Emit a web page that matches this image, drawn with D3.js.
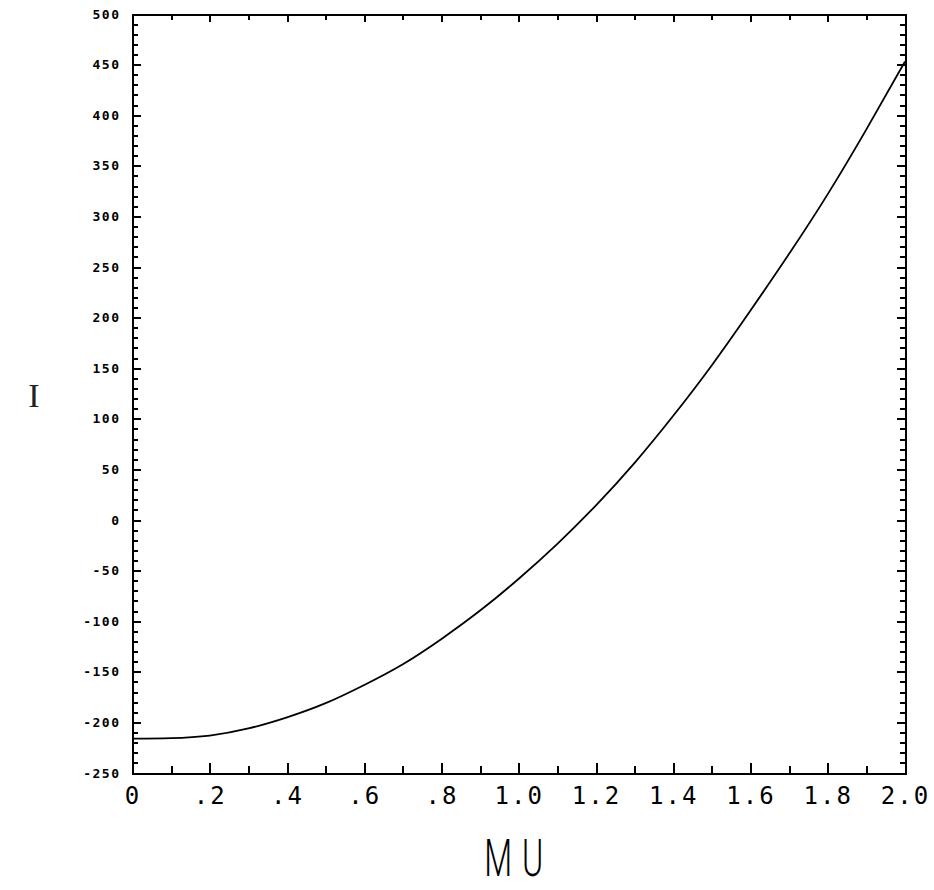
<!DOCTYPE html>
<meta charset="utf-8">
<script src="https://cdn.jsdelivr.net/npm/d3@7"></script>
<style type="text/css">
    body { margin: 0; background: #fff; }

    .axis path,
    .axis line {
        fill: none;
        stroke: #000;
        stroke-width: 2px;
        shape-rendering: crispEdges;
    }

    .y-label text {
        font-family: "DejaVu Sans Mono", monospace;
        font-weight: bold;
        font-size: 13px;
        letter-spacing: 1.5px;
    }

    .x-label text {
        font-family: "DejaVu Sans Mono", monospace;
        font-size: 24px;
        letter-spacing: 2px;
    }
</style>
<body>
<script>
    // curve I vs MU
    var mu = [0, 0.1, 0.2, 0.3, 0.4, 0.5, 0.6, 0.7, 0.8, 0.9, 1.0,
              1.1, 1.2, 1.3, 1.4, 1.5, 1.6, 1.7, 1.8, 1.9, 2.0];
    var iVal = [-216, -215.5, -213, -206, -195, -181, -163, -142.5, -117.5, -89.5, -58,
                -23.5, 14.5, 56.5, 103, 153, 207, 263, 322, 386, 453];

    var xTicks = [0, 0.2, 0.4, 0.6, 0.8, 1.0, 1.2, 1.4, 1.6, 1.8, 2.0];
    var xTickLabels = ["0", ".2", ".4", ".6", ".8", "1.0", "1.2", "1.4", "1.6", "1.8", "2.0"];
    var yTicks = [-250, -200, -150, -100, -50, 0, 50, 100, 150, 200, 250, 300, 350, 400, 450, 500];
    var yTickLabels = ["-250", "-200", "-150", "-100", "-50", "0", "50", "100", "150",
                       "200", "250", "300", "350", "400", "450", "500"];

    var margin = {top: 14, right: 29, bottom: 117, left: 132.5},
        width = 934 - margin.left - margin.right,
        height = 890 - margin.top - margin.bottom;

    var x = d3.scaleLinear().domain([0, 2]).range([0, width]),
        y = d3.scaleLinear().domain([-250, 500]).range([height, 0]);

    // minor ticks every .1 and every 10
    var xMinor = d3.range(1, 20, 2).map(function(d){ return d / 10; });
    var yMinor = d3.range(-250, 501, 10).filter(function(d){ return d % 50 !== 0; });

    var svg = d3.select("body")
        .append("svg")
        .attr("width", 934)
        .attr("height", 890)
        .append("g")
        .attr("transform", "translate(" + margin.left + "," + margin.top + ")");

    // left axis
    svg.append("g")
        .attr("class", "axis")
        .call(d3.axisLeft(y).tickValues(yMinor).tickSize(-5).tickFormat(""));
    svg.append("g")
        .attr("class", "axis y-label")
        .call(d3.axisLeft(y).tickValues(yTicks).tickSizeInner(-8).tickSizeOuter(0).tickPadding(12)
            .tickFormat(function(d, i){ return yTickLabels[i]; }));

    // right axis
    svg.append("g")
        .attr("class", "axis")
        .attr("transform", "translate(" + width + ",0)")
        .call(d3.axisRight(y).tickValues(yMinor).tickSize(-5).tickFormat(""));
    svg.append("g")
        .attr("class", "axis")
        .attr("transform", "translate(" + width + ",0)")
        .call(d3.axisRight(y).tickValues(yTicks).tickSizeInner(-8).tickSizeOuter(0).tickFormat(""));

    // bottom axis
    svg.append("g")
        .attr("class", "axis")
        .attr("transform", "translate(0," + height + ")")
        .call(d3.axisBottom(x).tickValues(xMinor).tickSize(-7).tickFormat(""));
    svg.append("g")
        .attr("class", "axis x-label")
        .attr("transform", "translate(0," + height + ")")
        .call(d3.axisBottom(x).tickValues(xTicks).tickSizeInner(-10).tickSizeOuter(0).tickPadding(14)
            .tickFormat(function(d, i){ return xTickLabels[i]; }));

    // top axis
    svg.append("g")
        .attr("class", "axis")
        .call(d3.axisTop(x).tickValues(xMinor).tickSize(-6).tickFormat(""));
    svg.append("g")
        .attr("class", "axis")
        .call(d3.axisTop(x).tickValues(xTicks).tickSizeInner(-8).tickSizeOuter(0).tickFormat(""));

    svg.selectAll(".axis text").attr("fill", "#000");

    // the curve
    var line = d3.line()
        .x(function(d){ return x(d[0]); })
        .y(function(d){ return y(d[1]); })
        .curve(d3.curveNatural);

    svg.append("path")
        .datum(d3.zip(mu, iVal))
        .attr("d", line)
        .attr("fill", "none")
        .attr("stroke", "#000")
        .attr("stroke-width", 1.8);

    // axis titles
    svg.append("text")
        .attr("x", x(1.0))
        .attr("y", height + 103)
        .attr("text-anchor", "middle")
        .attr("transform", "translate(" + x(1.0) + ",0) scale(0.62,1) translate(" + (-x(1.0)) + ",0)")
        .style("font-family", "Roboto, 'DejaVu Sans'")
        .style("font-weight", "300")
        .style("font-size", "52px")
        .style("letter-spacing", "16px")
        .style("fill", "#000")
        .text("MU");

    svg.append("text")
        .attr("x", 34 - margin.left)
        .attr("y", 407 - margin.top)
        .attr("text-anchor", "middle")
        .style("font-family", "'Liberation Serif', serif")
        .style("font-size", "34px")
        .style("fill", "#222")
        .text("I");
</script>
</body>
